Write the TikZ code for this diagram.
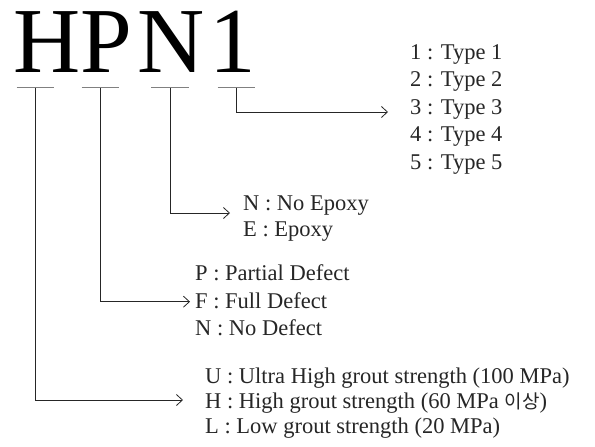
\documentclass[tikz,border=0pt]{standalone}
\usepackage{fontspec}
\setmainfont{Liberation Serif}
\newfontfamily\cjk{Noto Sans CJK KR}
\usetikzlibrary{arrows.meta}
\begin{document}
\begin{tikzpicture}[x=1pt,y=-1pt,
  code/.style={font=\fontsize{93}{93}\selectfont, inner sep=0pt, anchor=base},
  tick/.style={draw=black!50, line width=0.9pt},
  conn/.style={draw=black!85, line width=0.8pt, -{Straight Barb[length=6pt,width=11pt]}},
  item/.style={font=\fontsize{22.5}{27}\selectfont, inner sep=0pt, anchor=base west, text=black!85}]
\useasboundingbox (0,0) rectangle (595,447);

% the code letters
\node[code] (cH) at (47,72)  {H};
\node[code] (cP) at (106,72) {P};
\node[code] (cN) at (171,72) {N};
\node[code] (c1) at (233,72) {1};

% tick marks under each letter
\coordinate (tH) at (35.5,87.7);
\coordinate (tP) at (100.7,87.7);
\coordinate (tN) at (170,87.7);
\coordinate (t1) at (236.7,87.7);
\foreach \t in {tH,tP,tN,t1}
  \draw[tick] ([xshift=-19pt]\t) -- ([xshift=18.5pt]\t);

% arrow ends
\coordinate (aT) at (388,112);
\coordinate (aE) at (230,213);
\coordinate (aD) at (190,301.7);
\coordinate (aG) at (183,400);

\draw[conn] (t1) |- (aT);
\draw[conn] (tN) |- (aE);
\draw[conn] (tP) |- (aD);
\draw[conn] (tH) |- (aG);

% type
\node[item] (ty1) at (410,59)    {1 : Type 1};
\node[item] (ty2) at (410,86.5)  {2 : Type 2};
\node[item] (ty3) at (410,114)   {3 : Type 3};
\node[item] (ty4) at (410,141.5) {4 : Type 4};
\node[item] (ty5) at (410,169)   {5 : Type 5};

% epoxy
\node[item] (ep1) at (243,210.5) {N : No Epoxy};
\node[item] (ep2) at (243,236)   {E : Epoxy};

% defect
\node[item] (df1) at (195,280) {P : Partial Defect};
\node[item] (df2) at (195,308) {F : Full Defect};
\node[item] (df3) at (195,335) {N : No Defect};

% grout strength
\node[item] (gr1) at (205,383) {U : Ultra High grout strength (100 MPa)};
\node[item] (gr2) at (205,408) {H : High grout strength (60 MPa {\cjk\fontsize{19}{19}\selectfont 이상})};
\node[item] (gr3) at (205,433) {L : Low grout strength (20 MPa)};
\end{tikzpicture}
\end{document}
